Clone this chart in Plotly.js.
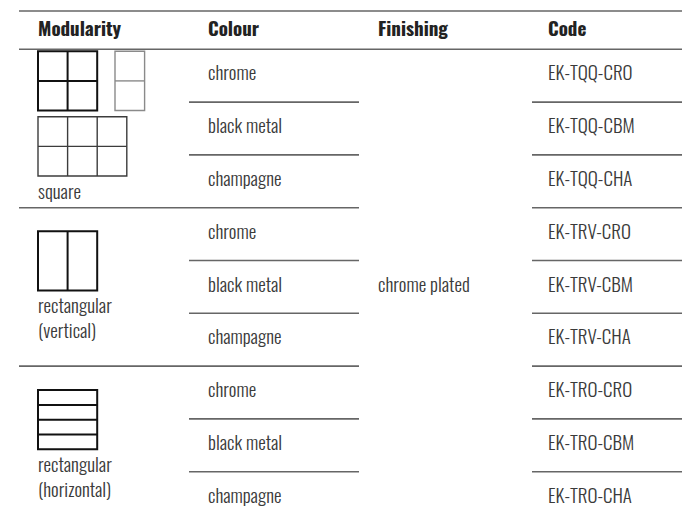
<!DOCTYPE html>
<html><head><meta charset="utf-8">
<script src="https://cdn.plot.ly/plotly-3.0.1.min.js"></script>
<style>html,body{margin:0;padding:0;background:#fff}#chart{width:682px;height:518px}</style>
</head><body><div id="chart"></div>
<script>
// ---- data ----
const headers = ['Modularity', 'Colour', 'Finishing', 'Code'];
const modularity = ['square', 'rectangular<br>(vertical)', 'rectangular<br>(horizontal)'];
const colours = ['chrome', 'black metal', 'champagne'];
const finishing = ['chrome plated'];
const codes = ['EK-TQQ-CRO', 'EK-TQQ-CBM', 'EK-TQQ-CHA',
               'EK-TRV-CRO', 'EK-TRV-CBM', 'EK-TRV-CHA',
               'EK-TRO-CRO', 'EK-TRO-CBM', 'EK-TRO-CHA'];
// module grids per modularity: [columns, rows]
const iconGrids = [[[2, 2], [1, 2], [3, 2]], [[2, 1]], [[1, 4]]];

// ---- layout constants ----
const FONT = "Oswald, 'Liberation Sans Narrow', 'Arial Narrow', 'DejaVu Sans Condensed', 'Roboto Condensed', Roboto, sans-serif";
const colX = [38, 208, 378, 548];
const lineL = 19, lineR = 682;
const topY = 11, headY = 31, rowTop = 49.3, rowH = 52.8;
const colLineSeg = [[19, 189], [189, 359], null, [532, 682]];
const LINE = '#666';
const cell = 29.6;
const BODY = {family: FONT, size: 19, color: '#3a3a3a', weight: 300};
// icon placement per group: [dx, dy, stroke color, width]
const iconPos = [
  [[0, 2, '#111', 2], [77, 2, '#8a8a8a', 1.4], [0, 67.5, '#3c3c3c', 1.4]],
  [[0, 23.5, '#111', 2]],
  [[0, 24, '#111', 2]]
];
// label vertical anchor (top of text block) offset within group
const labelDy = [135, 91, 92];

const rowsPerGroup = colours.length;
const nRows = codes.length;
const rowCenter = i => rowTop + (i + 0.5) * rowH;

const traces = [];
// header
traces.push({x: colX, y: headers.map(() => headY), text: headers.map(h => '<b>' + h + '</b>'),
  mode: 'text', textposition: 'middle right', hoverinfo: 'skip',
  textfont: {family: FONT, size: 19, color: '#222'}});
// colours
const cx = [], cy = [], ct = [];
for (let i = 0; i < nRows; i++) { cx.push(colX[1]); cy.push(rowCenter(i)); ct.push(colours[i % rowsPerGroup]); }
traces.push({x: cx, y: cy, text: ct, mode: 'text', textposition: 'middle right', hoverinfo: 'skip', textfont: BODY});
// codes
traces.push({x: codes.map(() => colX[3]), y: codes.map((c, i) => rowCenter(i)), text: codes,
  mode: 'text', textposition: 'middle right', hoverinfo: 'skip', textfont: BODY});
// finishing (merged)
traces.push({x: [colX[2]], y: [rowTop + nRows * rowH / 2], text: finishing,
  mode: 'text', textposition: 'middle right', hoverinfo: 'skip', textfont: BODY});
// modularity labels (anchored at top of block)
traces.push({x: modularity.map(() => colX[0]),
  y: modularity.map((m, g) => rowTop + g * rowsPerGroup * rowH + labelDy[g]),
  text: modularity, mode: 'text', textposition: 'bottom right', hoverinfo: 'skip', textfont: BODY});

// shapes
const shapes = [];
const hline = (x0, x1, y, color, w) => shapes.push({type: 'line', xref: 'x', yref: 'y', x0, x1, y0: y, y1: y, line: {color, width: w}});
const vline = (x, y0, y1, color, w) => shapes.push({type: 'line', xref: 'x', yref: 'y', x0: x, x1: x, y0, y1, line: {color, width: w}});
hline(lineL, lineR, topY, LINE, 1.6);
hline(lineL, lineR, rowTop, LINE, 1.6);
for (let i = 1; i < nRows; i++) {
  const y = rowTop + i * rowH;
  if (i % rowsPerGroup === 0) {
    hline(colLineSeg[0][0], colLineSeg[1][1], y, LINE, 1.6);
  } else {
    hline(colLineSeg[1][0], colLineSeg[1][1], y, LINE, 1.6);
  }
  hline(colLineSeg[3][0], colLineSeg[3][1], y, LINE, 1.6);
}
// icons
iconGrids.forEach((grids, g) => {
  const gTop = rowTop + g * rowsPerGroup * rowH;
  grids.forEach((gr, k) => {
    const [cols, rows] = gr;
    const [dx, dy, color, w] = iconPos[g][k];
    const x0 = colX[0] + dx, y0 = gTop + dy;
    const W = g === 0 ? cols * cell : 2 * cell;
    const H = g === 0 ? rows * cell : 2 * cell;
    shapes.push({type: 'rect', xref: 'x', yref: 'y', x0, x1: x0 + W, y0, y1: y0 + H, line: {color, width: w}});
    for (let c = 1; c < cols; c++) vline(x0 + c * W / cols, y0, y0 + H, color, w);
    for (let r = 1; r < rows; r++) hline(x0, x0 + W, y0 + r * H / rows, color, w);
  });
});

const layout = {
  width: 682, height: 518, margin: {l: 0, r: 0, t: 0, b: 0},
  paper_bgcolor: '#fff', plot_bgcolor: '#fff', showlegend: false,
  xaxis: {range: [0, 682], visible: false, fixedrange: true},
  yaxis: {range: [518, 0], visible: false, fixedrange: true},
  shapes
};
Plotly.newPlot('chart', traces, layout, {displayModeBar: false, staticPlot: true});
</script></body></html>
